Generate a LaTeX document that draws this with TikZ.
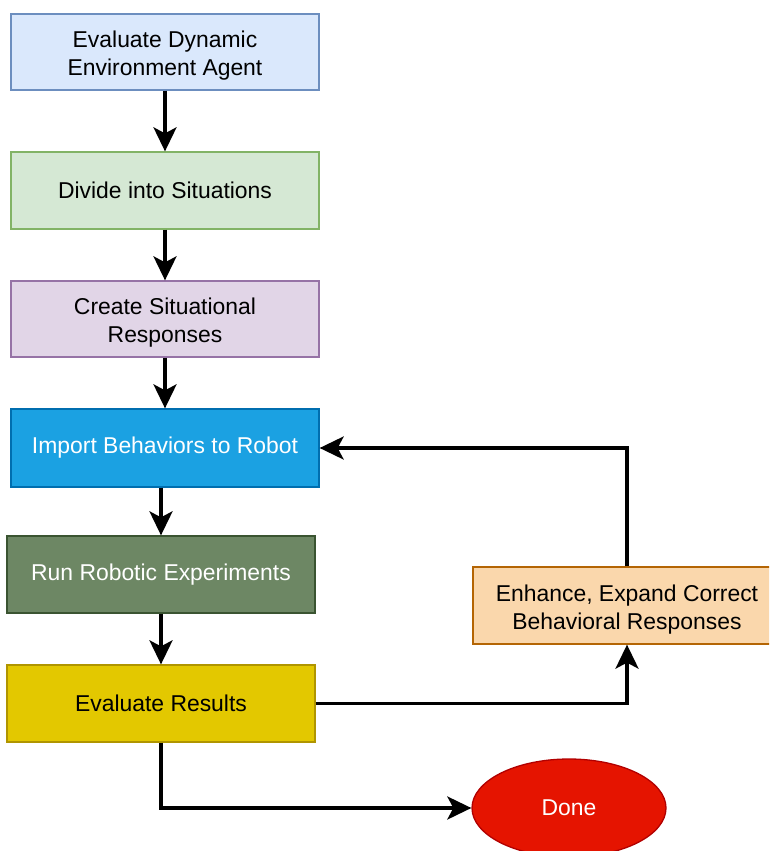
\documentclass[tikz,border=0pt]{standalone}
\usepackage{fontspec}
\setmainfont{Liberation Sans}
\usetikzlibrary{arrows.meta,shapes.geometric}
\definecolor{bluefill}{HTML}{DAE8FC}\definecolor{blueline}{HTML}{6C8EBF}
\definecolor{greenfill}{HTML}{D5E8D4}\definecolor{greenline}{HTML}{82B366}
\definecolor{purplefill}{HTML}{E1D5E7}\definecolor{purpleline}{HTML}{9673A6}
\definecolor{cyanfill}{HTML}{1BA1E2}\definecolor{cyanline}{HTML}{006EAF}
\definecolor{olivefill}{HTML}{6D8764}\definecolor{oliveline}{HTML}{3A5431}
\definecolor{yellowfill}{HTML}{E3C800}\definecolor{yellowline}{HTML}{B09500}
\definecolor{orangefill}{HTML}{FAD7AC}\definecolor{orangeline}{HTML}{B46504}
\definecolor{redfill}{HTML}{E51400}\definecolor{redline}{HTML}{B20000}
\newcommand{\lowr}{\rule{0pt}{24pt}}
\tikzset{
  box/.style={rectangle, minimum width=308pt, minimum height=77pt, line width=1.3pt,
    align=center, inner sep=0pt, font=\fontsize{22.9}{28}\selectfont},
  arr/.style={line width=3.4pt, -{Stealth[length=24pt,width=23pt,inset=6pt]}}
}
\begin{document}
\begin{tikzpicture}[x=1pt,y=-1pt]
\useasboundingbox (0,0) rectangle (769,851);
\clip (0,0) rectangle (769,851);
\node[box, fill=bluefill, draw=blueline, minimum height=76pt] (A) at (165,52) {\lowr Evaluate Dynamic\\Environment Agent};
\node[box, fill=greenfill, draw=greenline] (B) at (165,190.5) {Divide into Situations};
\node[box, fill=purplefill, draw=purpleline, minimum height=76pt] (C) at (165,319) {\lowr Create Situational\\Responses};
\node[box, fill=cyanfill, draw=cyanline, text=white, minimum height=78pt] (D) at (165,448) {Import Behaviors to Robot};
\node[box, fill=olivefill, draw=oliveline, text=white] (E) at (161,574.5) {Run Robotic Experiments};
\node[box, fill=yellowfill, draw=yellowline] (F) at (161,703.5) {Evaluate Results};
\node[box, fill=orangefill, draw=orangeline] (G) at (627,605.5) {\lowr Enhance, Expand Correct\\Behavioral Responses};
\node[ellipse, fill=redfill, draw=redline, line width=1.3pt, minimum width=194pt, minimum height=98pt, inner sep=0pt, text=white, font=\fontsize{22.9}{28}\selectfont] (H) at (569,808) {Done};
\draw[arr] (A) -- (B);
\draw[arr] (B) -- (C);
\draw[arr] (C) -- (D);
\draw[arr] (E.north |- D.south) -- (E.north);
\draw[arr] (E) -- (F);
\draw[arr] (F.east) -| (G.south);
\draw[arr] (G.north) |- (D.east);
\draw[arr] (F.south) |- (H.west);
\end{tikzpicture}
\end{document}
